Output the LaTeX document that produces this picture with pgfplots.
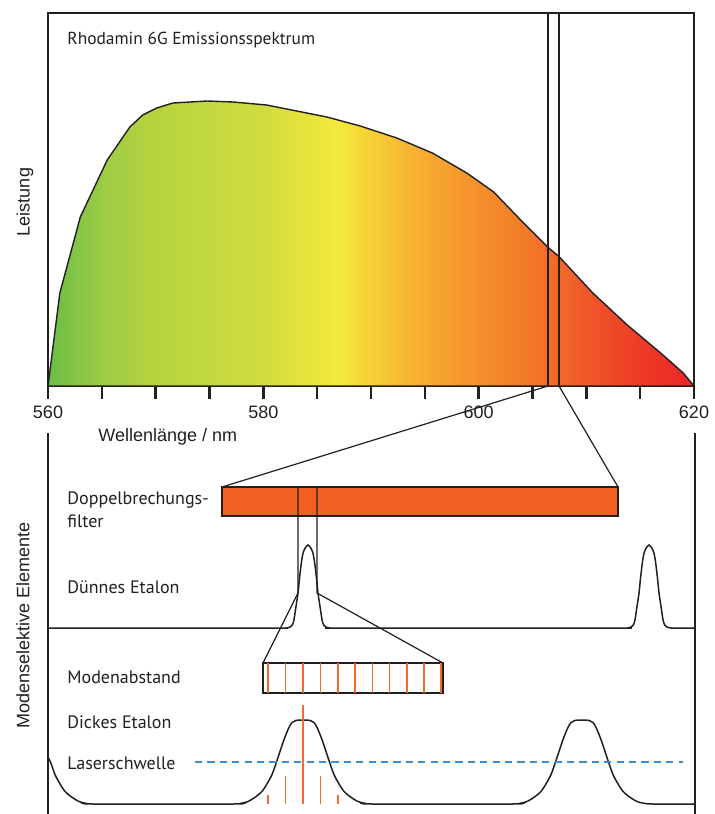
\documentclass[border=0pt]{standalone}
\usepackage{fontspec}
\setmainfont{Liberation Sans}
\newfontfamily\mya{PT Sans}
\usepackage{pgfplots}
\pgfplotsset{compat=1.18}
\definecolor{fil}{HTML}{F26122}
\definecolor{mode}{HTML}{F26A2E}
\definecolor{thr}{HTML}{3B8ED0}
\definecolor{ln}{HTML}{231F20}
\definecolor{ca}{HTML}{6ABD45}
\definecolor{cb}{HTML}{9CCB45}
\definecolor{cc}{HTML}{B5D33F}
\definecolor{cd}{HTML}{C6DA3F}
\definecolor{ce}{HTML}{D0DC3F}
\definecolor{cf}{HTML}{E1E23C}
\definecolor{cg}{HTML}{F3EA3C}
\definecolor{ch}{HTML}{F6D034}
\definecolor{ci}{HTML}{F7AE31}
\definecolor{cj}{HTML}{F59A2C}
\definecolor{ck}{HTML}{F27A28}
\definecolor{cl}{HTML}{F1652A}
\definecolor{cm}{HTML}{EE4527}
\definecolor{cn}{HTML}{EC2426}
\pgfdeclarehorizontalshading{spec}{100bp}{color(0bp)=(ca); color(25bp)=(ca); color(29.17bp)=(cb); color(33bp)=(cc); color(38.3bp)=(cd); color(41.7bp)=(ce); color(44.2bp)=(cf); color(47.5bp)=(cg); color(50bp)=(ch); color(53.75bp)=(ci); color(56.7bp)=(cj); color(61.7bp)=(ck); color(65bp)=(cl); color(69.2bp)=(cm); color(75bp)=(cn); color(100bp)=(cn)}
\begin{document}
\begin{tikzpicture}
\path[use as bounding box] (0,0) rectangle (357pt,-407pt);
% ---------------- top panel ----------------
\begin{axis}[at={(24pt,-193pt)}, anchor=south west, scale only axis,
  width=323pt, height=186.5pt, xmin=560, xmax=620, ymin=0, ymax=373,
  xtick={560,580,600,620}, ytick=\empty, xtick pos=left,
  xtick style={draw=none}, major tick length=0pt,
  xticklabel style={yshift=-6.5pt},
  axis line style={line width=1.3pt, color=ln},
  tick label style={font=\fontsize{9}{10}\selectfont, text=ln},
  /pgf/number format/assume math mode=true,
  /pgf/number format/1000 sep={},
  clip=false]
\addplot[draw=ln, line width=0.7pt, shading=spec] coordinates {
(560,0) (561.1,93) (563.0,169) (565.5,226) (567.6,259) (568.8,271) (570.1,278)
(571.6,283) (574.8,285) (577.2,284) (580.3,281) (585.9,269) (589.0,260)
(592.4,248) (595.7,233) (598.9,213) (601.4,194) (603.9,166) (606.4,139)
(607.5,129) (610.6,93) (613.8,61) (616.9,33) (619.0,13) (620,0)} \closedcycle;
\addplot[ln, line width=0.6pt] coordinates {(606.44,0) (606.44,373)};
\addplot[ln, line width=0.6pt] coordinates {(607.46,0) (607.46,373)};
% tick marks (every 5 nm, pointing down)
\addplot[ln, line width=1.2pt, unbounded coords=jump] coordinates {
(560,0) (560,-13) (nan,nan) (565,0) (565,-13) (nan,nan) (570,0) (570,-13) (nan,nan)
(575,0) (575,-13) (nan,nan) (580,0) (580,-13) (nan,nan) (585,0) (585,-13) (nan,nan)
(590,0) (590,-13) (nan,nan) (595,0) (595,-13) (nan,nan) (600,0) (600,-13) (nan,nan)
(605,0) (605,-13) (nan,nan) (610,0) (610,-13) (nan,nan) (615,0) (615,-13) (nan,nan)
(620,0) (620,-13)};
\end{axis}
% ---------------- bottom panel ----------------
\begin{axis}[at={(24pt,-407pt)}, anchor=south west, scale only axis,
  width=323.5pt, height=190.5pt, xmin=48, xmax=695, ymin=433, ymax=814,
  y dir=reverse, hide axis, clip=false]
% axis side lines
\addplot[ln, line width=1.3pt] coordinates {(48,433) (48,814)};
\addplot[ln, line width=1.3pt] coordinates {(695,433) (695,814)};
% zoom lines from top panel
\addplot[ln, line width=0.6pt] coordinates {(548,386) (222,487)};
\addplot[ln, line width=0.6pt] coordinates {(559,386) (618,487)};
% birefringent filter bar
\addplot[draw=ln, line width=0.6pt, fill=fil] coordinates {(222,487) (618,487) (618,516) (222,516)} -- cycle;
% lines from filter to mode box
\addplot[ln, line width=0.6pt] coordinates {(298,487) (298,593) (263,663)};
\addplot[ln, line width=0.6pt] coordinates {(317,487) (317,593) (443,663)};
% thin etalon
\addplot[ln, line width=0.75pt, smooth, tension=0.45] coordinates {
(48,628) (270,628) (286,628) (290.5,626.75) (292.5,624.7) (294,619.7) (295.5,609.7) (298,593.1)
(299.5,578.2) (301.5,561.6) (303,553.3) (305,548.3) (308,545) (311,548.3) (313,553.3)
(314.5,561.6) (316.5,578.2) (318,593.1) (320.5,609.7) (322,619.7) (323.5,624.7)
(325.5,626.75) (330,628) (345,628) (612,628)
(627,628) (631.5,626.75) (633.5,624.7) (635,619.7) (636.5,609.7) (639,593.1)
(640.5,578.2) (642.5,561.6) (644,553.3) (646,548.3) (649,545) (652,548.3) (654,553.3)
(655.5,561.6) (657.5,578.2) (659,593.1) (661.5,609.7) (663,619.7) (664.5,624.7)
(666.5,626.75) (671,628) (685,628) (695,628)};
% mode spacing box
\addplot[draw=ln, line width=0.6pt, fill=white] coordinates {(263,663) (443,663) (443,693) (263,693)} -- cycle;
\addplot[mode, line width=0.75pt, unbounded coords=jump] coordinates {
(268,663) (268,693) (nan,nan) (285.5,663) (285.5,693) (nan,nan)
(303,663) (303,693) (nan,nan) (320.5,663) (320.5,693) (nan,nan)
(338,663) (338,693) (nan,nan) (355,663) (355,693) (nan,nan)
(372.5,663) (372.5,693) (nan,nan) (389.5,663) (389.5,693) (nan,nan)
(407,663) (407,693) (nan,nan) (424,663) (424,693) (nan,nan)
(441,663) (441,693)};
% thick etalon
\addplot[ln, line width=0.75pt, smooth, tension=0.5] coordinates {
(48,757.5) (50.5,762) (55,774.6) (59.5,783) (65,791.4) (72,797.3) (79,801.5) (86,803.3) (96,804)
(231,804) (241,803.3) (248,801.5) (255,797.3) (262,791.4) (267.5,783) (272,774.6) (276.5,762)
(283.5,741) (288.5,728.4) (292,722.5) (296,720.4) (303,720) (310,720.4) (314,722.5)
(317.5,728.4) (322.5,741) (329.5,762) (334,774.6) (338.5,783) (344,791.4) (351,797.3)
(358,801.5) (365,803.3) (375,804)
(510,804) (520,803.3) (527,801.5) (534,797.3) (541,791.4) (546.5,783) (551,774.6) (555.5,762)
(562.5,741) (567.5,728.4) (571,722.5) (575,720.4) (582,720) (589,720.4) (593,722.5)
(596.5,728.4) (601.5,741) (608.5,762) (613,774.6) (617.5,783) (623,791.4) (630,797.3)
(637,801.5) (644,803.3) (654,804) (695,804)};
% laser threshold
\addplot[thr, line width=1pt, dash pattern=on 3.6pt off 2.6pt] coordinates {(195,762) (683,762)};
% lasing modes
\addplot[mode, line width=0.8pt, unbounded coords=jump] coordinates {
(303,705) (303,804) (nan,nan) (285.5,776) (285.5,804) (nan,nan)
(320.5,776) (320.5,804) (nan,nan) (268,795) (268,804) (nan,nan) (338,795) (338,804)};
\end{axis}
% ---------------- texts ----------------
\begin{scope}[x=0.5pt, y=-0.5pt, every node/.style={inner sep=0pt, text=ln}]
\node[anchor=west, font=\mya\fontsize{8.7}{11}\selectfont] at (67,40) {Rhodamin 6G Emissionsspektrum};
\node[rotate=90, font=\fontsize{9}{11}\selectfont] at (25,202) {Leistung};
\node[anchor=west, font=\fontsize{9}{11}\selectfont] at (98,437) {Wellenlänge / nm};
\node[rotate=90, font=\fontsize{9}{11}\selectfont] at (23,625) {Modenselektive Elemente};
\node[anchor=west, font=\mya\fontsize{9}{11}\selectfont] at (67,500) {Doppelbrechungs-};
\node[anchor=west, font=\mya\fontsize{9}{11}\selectfont] at (67,521) {filter};
\node[anchor=west, font=\mya\fontsize{9}{11}\selectfont] at (67,587) {Dünnes Etalon};
\node[anchor=west, font=\mya\fontsize{9}{11}\selectfont] at (67,677) {Modenabstand};
\node[anchor=west, font=\mya\fontsize{9}{11}\selectfont] at (67,722) {Dickes Etalon};
\node[anchor=west, font=\mya\fontsize{9}{11}\selectfont] at (67,763) {Laserschwelle};
\end{scope}
\end{tikzpicture}
\end{document}
